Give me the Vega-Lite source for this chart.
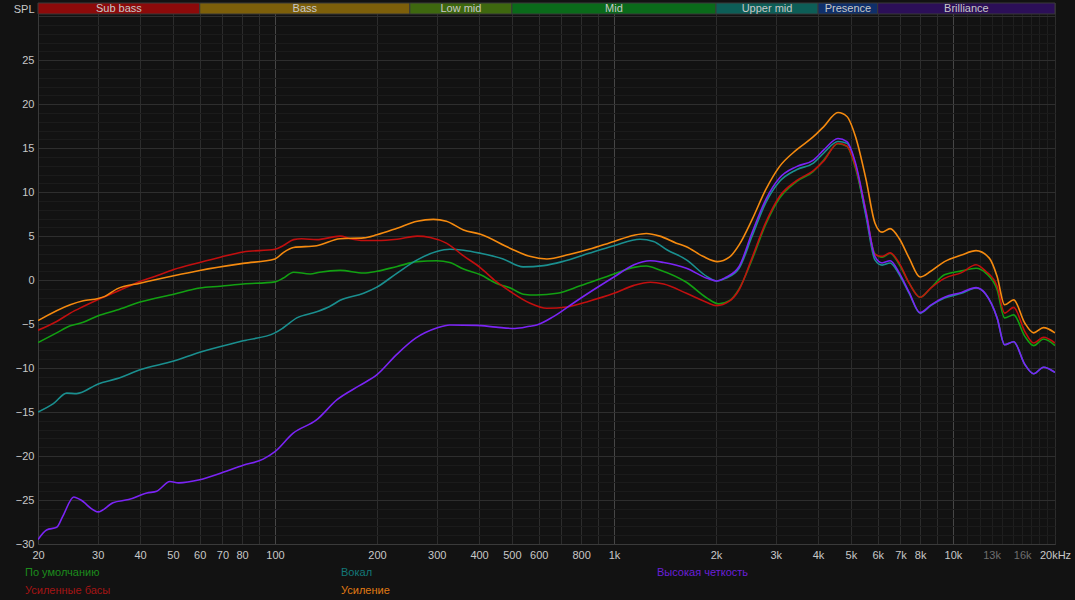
{
  "$schema": "https://vega.github.io/schema/vega-lite/v6.json",
  "width": 1017,
  "height": 541,
  "autosize": {"type": "none"},
  "padding": {"left": 38, "top": 3, "right": 20, "bottom": 56},
  "background": "#121212",
  "config": {"view": {"stroke": "#333333"}, "font": "Liberation Sans"},
  "datasets": {
    "bands": [
      {"band": "Sub bass", "f1": 20, "f2": 60},
      {"band": "Bass", "f1": 60, "f2": 250},
      {"band": "Low mid", "f1": 250, "f2": 500},
      {"band": "Mid", "f1": 500, "f2": 2000},
      {"band": "Upper mid", "f1": 2000, "f2": 4000},
      {"band": "Presence", "f1": 4000, "f2": 6000},
      {"band": "Brilliance", "f1": 6000, "f2": 20000}
    ],
    "curves": [
      {"s":"По умолчанию","f":20,"db":-7.1},{"s":"По умолчанию","f":22.7,"db":-6.0},{"s":"По умолчанию","f":24.9,"db":-5.2},{"s":"По умолчанию","f":27.2,"db":-4.8},{"s":"По умолчанию","f":30.1,"db":-4.05},{"s":"По умолчанию","f":34.2,"db":-3.4},{"s":"По умолчанию","f":40,"db":-2.5},{"s":"По умолчанию","f":50.3,"db":-1.6},{"s":"По умолчанию","f":60,"db":-0.9},{"s":"По умолчанию","f":69,"db":-0.7},{"s":"По умолчанию","f":80.6,"db":-0.45},{"s":"По умолчанию","f":100,"db":-0.2},{"s":"По умолчанию","f":105.6,"db":0.2},{"s":"По умолчанию","f":113.5,"db":0.9},{"s":"По умолчанию","f":127,"db":0.7},{"s":"По умолчанию","f":135.4,"db":0.9},{"s":"По умолчанию","f":155.7,"db":1.1},{"s":"По умолчанию","f":182.6,"db":0.8},{"s":"По умолчанию","f":199.8,"db":1.0},{"s":"По умолчанию","f":229.3,"db":1.55},{"s":"По умолчанию","f":262.8,"db":2.1},{"s":"По умолчанию","f":300,"db":2.2},{"s":"По умолчанию","f":328,"db":2.0},{"s":"По умолчанию","f":360,"db":1.25},{"s":"По умолчанию","f":404,"db":0.6},{"s":"По умолчанию","f":449,"db":-0.35},{"s":"По умолчанию","f":495,"db":-0.9},{"s":"По умолчанию","f":540,"db":-1.6},{"s":"По умолчанию","f":590,"db":-1.7},{"s":"По умолчанию","f":680,"db":-1.5},{"s":"По умолчанию","f":795,"db":-0.65},{"s":"По умолчанию","f":1000,"db":0.7},{"s":"По умолчанию","f":1146,"db":1.45},{"s":"По умолчанию","f":1246,"db":1.6},{"s":"По умолчанию","f":1365,"db":1.15},{"s":"По умолчанию","f":1636,"db":-0.25},{"s":"По умолчанию","f":1882,"db":-2.05},{"s":"По умолчанию","f":2038,"db":-2.7},{"s":"По умолчанию","f":2190,"db":-2.35},{"s":"По умолчанию","f":2340,"db":-1.0},{"s":"По умолчанию","f":2553,"db":2.3},{"s":"По умолчанию","f":2801,"db":6.3},{"s":"По умолчанию","f":3078,"db":9.3},{"s":"По умолчанию","f":3455,"db":11.2},{"s":"По умолчанию","f":3876,"db":12.35},{"s":"По умолчанию","f":4159,"db":13.65},{"s":"По умолчанию","f":4580,"db":15.5},{"s":"По умолчанию","f":4866,"db":15.2},{"s":"По умолчанию","f":5160,"db":12.7},{"s":"По умолчанию","f":5544,"db":7.4},{"s":"По умолчанию","f":5886,"db":3.0},{"s":"По умолчанию","f":6180,"db":2.6},{"s":"По умолчанию","f":6525,"db":3.05},{"s":"По умолчанию","f":6950,"db":1.75},{"s":"По умолчанию","f":7428,"db":-0.35},{"s":"По умолчанию","f":8000,"db":-1.95},{"s":"По умолчанию","f":8600,"db":-0.9},{"s":"По умолчанию","f":9441,"db":0.6},{"s":"По умолчанию","f":10600,"db":1.05},{"s":"По умолчанию","f":11700,"db":1.35},{"s":"По умолчанию","f":12500,"db":0.8},{"s":"По умолчанию","f":13500,"db":-1.1},{"s":"По умолчанию","f":14200,"db":-4.3},{"s":"По умолчанию","f":15100,"db":-3.95},{"s":"По умолчанию","f":16300,"db":-6.4},{"s":"По умолчанию","f":17300,"db":-7.45},{"s":"По умолчанию","f":18500,"db":-6.7},{"s":"По умолчанию","f":20000,"db":-7.45},

      {"s":"Вокал","f":20,"db":-15.0},{"s":"Вокал","f":22.2,"db":-14.05},{"s":"Вокал","f":24.3,"db":-12.85},{"s":"Вокал","f":26,"db":-12.9},{"s":"Вокал","f":30.1,"db":-11.8},{"s":"Вокал","f":34.2,"db":-11.2},{"s":"Вокал","f":40,"db":-10.2},{"s":"Вокал","f":50.3,"db":-9.2},{"s":"Вокал","f":60,"db":-8.2},{"s":"Вокал","f":80.6,"db":-6.9},{"s":"Вокал","f":100,"db":-6.0},{"s":"Вокал","f":105.6,"db":-5.45},{"s":"Вокал","f":116,"db":-4.3},{"s":"Вокал","f":132.8,"db":-3.6},{"s":"Вокал","f":145,"db":-3.0},{"s":"Вокал","f":155.7,"db":-2.3},{"s":"Вокал","f":182.6,"db":-1.5},{"s":"Вокал","f":199.8,"db":-0.8},{"s":"Вокал","f":229.3,"db":0.8},{"s":"Вокал","f":262.8,"db":2.3},{"s":"Вокал","f":300,"db":3.25},{"s":"Вокал","f":328,"db":3.5},{"s":"Вокал","f":360,"db":3.4},{"s":"Вокал","f":404,"db":3.05},{"s":"Вокал","f":471,"db":2.4},{"s":"Вокал","f":540,"db":1.5},{"s":"Вокал","f":620,"db":1.65},{"s":"Вокал","f":704,"db":2.1},{"s":"Вокал","f":844,"db":3.05},{"s":"Вокал","f":1000,"db":3.9},{"s":"Вокал","f":1194,"db":4.65},{"s":"Вокал","f":1309,"db":4.4},{"s":"Вокал","f":1432,"db":3.45},{"s":"Вокал","f":1636,"db":2.3},{"s":"Вокал","f":1882,"db":0.4},{"s":"Вокал","f":2008,"db":-0.1},{"s":"Вокал","f":2135,"db":0.2},{"s":"Вокал","f":2340,"db":1.35},{"s":"Вокал","f":2553,"db":4.95},{"s":"Вокал","f":2801,"db":8.75},{"s":"Вокал","f":3078,"db":11.2},{"s":"Вокал","f":3455,"db":12.55},{"s":"Вокал","f":3876,"db":13.3},{"s":"Вокал","f":4159,"db":14.45},{"s":"Вокал","f":4580,"db":15.75},{"s":"Вокал","f":4866,"db":15.55},{"s":"Вокал","f":5160,"db":13.1},{"s":"Вокал","f":5544,"db":7.2},{"s":"Вокал","f":5886,"db":2.3},{"s":"Вокал","f":6180,"db":1.7},{"s":"Вокал","f":6525,"db":1.95},{"s":"Вокал","f":6950,"db":0.6},{"s":"Вокал","f":7428,"db":-1.5},{"s":"Вокал","f":8000,"db":-3.75},{"s":"Вокал","f":8600,"db":-2.9},{"s":"Вокал","f":9441,"db":-2.05},{"s":"Вокал","f":10600,"db":-1.5},{"s":"Вокал","f":11700,"db":-0.9},{"s":"Вокал","f":12500,"db":-1.6},{"s":"Вокал","f":13500,"db":-4.3},{"s":"Вокал","f":14200,"db":-7.35},{"s":"Вокал","f":15100,"db":-7.0},{"s":"Вокал","f":16300,"db":-9.6},{"s":"Вокал","f":17300,"db":-10.65},{"s":"Вокал","f":18500,"db":-9.9},{"s":"Вокал","f":20000,"db":-10.5},

      {"s":"Усиленные басы","f":20,"db":-5.7},{"s":"Усиленные басы","f":22.7,"db":-4.7},{"s":"Усиленные басы","f":24.9,"db":-3.75},{"s":"Усиленные басы","f":27.2,"db":-3.0},{"s":"Усиленные басы","f":30.1,"db":-2.2},{"s":"Усиленные басы","f":34.2,"db":-1.3},{"s":"Усиленные басы","f":40,"db":-0.15},{"s":"Усиленные басы","f":44.8,"db":0.5},{"s":"Усиленные басы","f":50.3,"db":1.2},{"s":"Усиленные басы","f":60,"db":2.0},{"s":"Усиленные басы","f":69,"db":2.6},{"s":"Усиленные басы","f":80.6,"db":3.2},{"s":"Усиленные басы","f":100,"db":3.5},{"s":"Усиленные басы","f":105.6,"db":3.9},{"s":"Усиленные басы","f":113.5,"db":4.6},{"s":"Усиленные басы","f":120,"db":4.7},{"s":"Усиленные басы","f":132.8,"db":4.6},{"s":"Усиленные басы","f":155.7,"db":5.0},{"s":"Усиленные басы","f":166.8,"db":4.7},{"s":"Усиленные басы","f":182.6,"db":4.5},{"s":"Усиленные басы","f":199.8,"db":4.5},{"s":"Усиленные басы","f":229.3,"db":4.65},{"s":"Усиленные басы","f":262.8,"db":5.0},{"s":"Усиленные басы","f":287,"db":4.85},{"s":"Усиленные басы","f":320.4,"db":4.2},{"s":"Усиленные басы","f":360,"db":2.75},{"s":"Усиленные басы","f":404,"db":1.4},{"s":"Усиленные басы","f":449,"db":-0.15},{"s":"Усиленные басы","f":495,"db":-1.3},{"s":"Усиленные басы","f":564,"db":-2.6},{"s":"Усиленные басы","f":634,"db":-3.2},{"s":"Усиленные басы","f":726,"db":-3.05},{"s":"Усиленные басы","f":844,"db":-2.4},{"s":"Усиленные басы","f":1000,"db":-1.5},{"s":"Усиленные басы","f":1146,"db":-0.6},{"s":"Усиленные басы","f":1280,"db":-0.25},{"s":"Усиленные басы","f":1402,"db":-0.45},{"s":"Усиленные басы","f":1636,"db":-1.5},{"s":"Усиленные басы","f":1882,"db":-2.55},{"s":"Усиленные басы","f":2008,"db":-2.9},{"s":"Усиленные басы","f":2190,"db":-2.4},{"s":"Усиленные басы","f":2340,"db":-1.1},{"s":"Усиленные басы","f":2553,"db":2.5},{"s":"Усиленные басы","f":2801,"db":6.5},{"s":"Усиленные басы","f":3078,"db":9.5},{"s":"Усиленные басы","f":3455,"db":11.3},{"s":"Усиленные басы","f":3876,"db":12.45},{"s":"Усиленные басы","f":4159,"db":13.55},{"s":"Усиленные басы","f":4580,"db":15.55},{"s":"Усиленные басы","f":4866,"db":15.25},{"s":"Усиленные басы","f":5160,"db":12.9},{"s":"Усиленные басы","f":5544,"db":7.8},{"s":"Усиленные басы","f":5886,"db":2.9},{"s":"Усиленные басы","f":6180,"db":2.7},{"s":"Усиленные басы","f":6525,"db":3.1},{"s":"Усиленные басы","f":6950,"db":1.9},{"s":"Усиленные басы","f":7428,"db":-0.35},{"s":"Усиленные басы","f":8000,"db":-1.95},{"s":"Усиленные басы","f":8600,"db":-0.9},{"s":"Усиленные басы","f":9441,"db":0.2},{"s":"Усиленные басы","f":10600,"db":0.85},{"s":"Усиленные басы","f":11700,"db":1.75},{"s":"Усиленные басы","f":12500,"db":1.0},{"s":"Усиленные басы","f":13500,"db":-0.7},{"s":"Усиленные басы","f":14200,"db":-3.75},{"s":"Усиленные басы","f":15100,"db":-3.1},{"s":"Усиленные басы","f":16300,"db":-5.85},{"s":"Усиленные басы","f":17300,"db":-7.15},{"s":"Усиленные басы","f":18500,"db":-6.5},{"s":"Усиленные басы","f":20000,"db":-7.15},

      {"s":"Усиление","f":20,"db":-4.6},{"s":"Усиление","f":24.9,"db":-2.8},{"s":"Усиление","f":27.2,"db":-2.35},{"s":"Усиление","f":30.1,"db":-2.1},{"s":"Усиление","f":31.5,"db":-1.85},{"s":"Усиление","f":34.2,"db":-1.0},{"s":"Усиление","f":40,"db":-0.35},{"s":"Усиление","f":50.3,"db":0.5},{"s":"Усиление","f":60,"db":1.1},{"s":"Усиление","f":80.6,"db":1.9},{"s":"Усиление","f":100,"db":2.4},{"s":"Усиление","f":105.6,"db":3.1},{"s":"Усиление","f":113.5,"db":3.7},{"s":"Усиление","f":132.8,"db":3.9},{"s":"Усиление","f":155.7,"db":4.7},{"s":"Усиление","f":182.6,"db":4.8},{"s":"Усиление","f":199.8,"db":5.15},{"s":"Усиление","f":229.3,"db":5.9},{"s":"Усиление","f":262.8,"db":6.7},{"s":"Усиление","f":293.3,"db":6.9},{"s":"Усиление","f":320.4,"db":6.7},{"s":"Усиление","f":360,"db":5.7},{"s":"Усиление","f":404,"db":5.2},{"s":"Усиление","f":495,"db":3.6},{"s":"Усиление","f":564,"db":2.7},{"s":"Усиление","f":634,"db":2.4},{"s":"Усиление","f":737,"db":2.9},{"s":"Усиление","f":844,"db":3.5},{"s":"Усиление","f":1000,"db":4.4},{"s":"Усиление","f":1146,"db":5.1},{"s":"Усиление","f":1246,"db":5.3},{"s":"Усиление","f":1365,"db":5.0},{"s":"Усиление","f":1528,"db":4.2},{"s":"Усиление","f":1636,"db":3.8},{"s":"Усиление","f":1830,"db":2.7},{"s":"Усиление","f":2020,"db":2.1},{"s":"Усиление","f":2190,"db":2.6},{"s":"Усиление","f":2340,"db":4.0},{"s":"Усиление","f":2553,"db":6.85},{"s":"Усиление","f":2801,"db":10.25},{"s":"Усиление","f":3078,"db":12.9},{"s":"Усиление","f":3455,"db":14.8},{"s":"Усиление","f":3876,"db":16.3},{"s":"Усиление","f":4159,"db":17.45},{"s":"Усиление","f":4580,"db":19.05},{"s":"Усиление","f":4866,"db":18.6},{"s":"Усиление","f":5160,"db":16.3},{"s":"Усиление","f":5544,"db":11.4},{"s":"Усиление","f":5886,"db":6.5},{"s":"Усиление","f":6180,"db":5.45},{"s":"Усиление","f":6525,"db":5.85},{"s":"Усиление","f":6950,"db":4.7},{"s":"Усиление","f":7428,"db":2.5},{"s":"Усиление","f":8000,"db":0.35},{"s":"Усиление","f":8600,"db":1.0},{"s":"Усиление","f":9441,"db":2.1},{"s":"Усиление","f":10600,"db":2.85},{"s":"Усиление","f":11700,"db":3.35},{"s":"Усиление","f":12800,"db":2.5},{"s":"Усиление","f":13500,"db":0.4},{"s":"Усиление","f":14200,"db":-2.8},{"s":"Усиление","f":15100,"db":-2.25},{"s":"Усиление","f":16300,"db":-4.9},{"s":"Усиление","f":17300,"db":-6.0},{"s":"Усиление","f":18500,"db":-5.4},{"s":"Усиление","f":20000,"db":-6.0},

      {"s":"Высокая четкость","f":20,"db":-29.5},{"s":"Высокая четкость","f":21.2,"db":-28.4},{"s":"Высокая четкость","f":22.7,"db":-28.1},{"s":"Высокая четкость","f":23.7,"db":-26.8},{"s":"Высокая четкость","f":25.5,"db":-24.65},{"s":"Высокая четкость","f":26.6,"db":-24.95},{"s":"Высокая четкость","f":30.1,"db":-26.35},{"s":"Высокая четкость","f":33.3,"db":-25.3},{"s":"Высокая четкость","f":37,"db":-24.95},{"s":"Высокая четкость","f":41.9,"db":-24.2},{"s":"Высокая четкость","f":44.8,"db":-24.0},{"s":"Высокая четкость","f":49,"db":-22.9},{"s":"Высокая четкость","f":52,"db":-23.05},{"s":"Высокая четкость","f":60,"db":-22.7},{"s":"Высокая четкость","f":70.3,"db":-21.85},{"s":"Высокая четкость","f":80.6,"db":-21.05},{"s":"Высокая четкость","f":92.3,"db":-20.35},{"s":"Высокая четкость","f":100,"db":-19.5},{"s":"Высокая четкость","f":113.2,"db":-17.4},{"s":"Высокая четкость","f":132.6,"db":-15.9},{"s":"Высокая четкость","f":152.5,"db":-13.6},{"s":"Высокая четкость","f":177.5,"db":-12.0},{"s":"Высокая четкость","f":200,"db":-10.75},{"s":"Высокая четкость","f":228,"db":-8.5},{"s":"Высокая четкость","f":260,"db":-6.6},{"s":"Высокая четкость","f":300,"db":-5.45},{"s":"Высокая четкость","f":328,"db":-5.1},{"s":"Высокая четкость","f":393,"db":-5.15},{"s":"Высокая четкость","f":449,"db":-5.35},{"s":"Высокая четкость","f":510,"db":-5.5},{"s":"Высокая четкость","f":564,"db":-5.25},{"s":"Высокая четкость","f":592,"db":-5.1},{"s":"Высокая четкость","f":663,"db":-4.15},{"s":"Высокая четкость","f":760,"db":-2.6},{"s":"Высокая четкость","f":871,"db":-1.1},{"s":"Высокая четкость","f":1000,"db":0.35},{"s":"Высокая четкость","f":1146,"db":1.75},{"s":"Высокая четкость","f":1280,"db":2.2},{"s":"Высокая четкость","f":1402,"db":2.0},{"s":"Высокая четкость","f":1636,"db":1.35},{"s":"Высокая четкость","f":1882,"db":0.2},{"s":"Высокая четкость","f":2008,"db":-0.1},{"s":"Высокая четкость","f":2135,"db":0.3},{"s":"Высокая четкость","f":2340,"db":1.55},{"s":"Высокая четкость","f":2553,"db":5.35},{"s":"Высокая четкость","f":2801,"db":9.1},{"s":"Высокая четкость","f":3078,"db":11.6},{"s":"Высокая четкость","f":3455,"db":12.9},{"s":"Высокая четкость","f":3876,"db":13.65},{"s":"Высокая четкость","f":4159,"db":14.8},{"s":"Высокая четкость","f":4580,"db":16.1},{"s":"Высокая четкость","f":4866,"db":15.75},{"s":"Высокая четкость","f":5160,"db":13.3},{"s":"Высокая четкость","f":5544,"db":7.6},{"s":"Высокая четкость","f":5886,"db":2.7},{"s":"Высокая четкость","f":6180,"db":1.95},{"s":"Высокая четкость","f":6525,"db":2.2},{"s":"Высокая четкость","f":6950,"db":0.8},{"s":"Высокая четкость","f":7428,"db":-1.4},{"s":"Высокая четкость","f":8000,"db":-3.7},{"s":"Высокая четкость","f":8600,"db":-2.85},{"s":"Высокая четкость","f":9441,"db":-1.95},{"s":"Высокая четкость","f":10600,"db":-1.4},{"s":"Высокая четкость","f":11700,"db":-0.85},{"s":"Высокая четкость","f":12500,"db":-1.6},{"s":"Высокая четкость","f":13500,"db":-4.3},{"s":"Высокая четкость","f":14200,"db":-7.35},{"s":"Высокая четкость","f":15100,"db":-7.0},{"s":"Высокая четкость","f":16300,"db":-9.6},{"s":"Высокая четкость","f":17300,"db":-10.65},{"s":"Высокая четкость","f":18500,"db":-9.9},{"s":"Высокая четкость","f":20000,"db":-10.5}
    ]
  },
  "layer": [
    {
      "data": {"name": "curves"},
      "mark": {"type": "line", "interpolate": "monotone", "strokeWidth": 1.6, "clip": true},
      "encoding": {
        "x": {
          "field": "f", "type": "quantitative",
          "scale": {"type": "log", "domain": [20, 20000], "nice": false},
          "axis": {
            "title": null,
            "tickCount": 500,
            "values": [20,30,40,50,60,70,80,90,100,200,300,400,500,600,700,800,900,1000,2000,3000,4000,5000,6000,7000,8000,9000,10000,11000,12000,13000,14000,15000,16000,17000,18000,19000,20000],
            "labelExpr": "indexof([20,30,40,50,60,70,80,100,200,300,400,500,600,800,1000,2000,3000,4000,5000,6000,7000,8000,10000,13000,16000,20000], datum.value) < 0 ? '' : (datum.value == 20000 ? '20kHz' : (datum.value >= 1000 ? (datum.value / 1000) + 'k' : '' + datum.value))",
            "grid": true,
            "gridColor": {"condition": [{"test": "datum.value == 100 || datum.value == 1000 || datum.value == 10000", "value": "#464646"}, {"test": "datum.value > 10000 && datum.value < 20000", "value": "#1f1f1f"}], "value": "#2c2c2c"},
            "gridWidth": 1,
            "ticks": false,
            "domainColor": "#3a3a3a",
            "labelColor": {"condition": {"test": "datum.value == 13000 || datum.value == 16000", "value": "#6e6e6e"}, "value": "#c8c8c8"},
            "labelFont": "Liberation Sans",
            "labelFontSize": 11,
            "labelPadding": 5,
            "labelOverlap": false,
            "labelFlush": false,
            "labelBound": false
          }
        },
        "y": {
          "field": "db", "type": "quantitative",
          "scale": {"domain": [-30, 31.5], "nice": false, "zero": false},
          "axis": {
            "tickCount": 500,
            "format": "d",
            "values": [-30,-29,-28,-27,-26,-25,-24,-23,-22,-21,-20,-19,-18,-17,-16,-15,-14,-13,-12,-11,-10,-9,-8,-7,-6,-5,-4,-3,-2,-1,0,1,2,3,4,5,6,7,8,9,10,11,12,13,14,15,16,17,18,19,20,21,22,23,24,25,26,27,28,29,30],
            "labelExpr": "(datum.value % 5 == 0 && datum.value < 30) ? format(datum.value, 'd') : ''",
            "grid": true,
            "gridColor": {"condition": {"test": "datum.value % 5 == 0", "value": "#2e2e2e"}, "value": "#1b1b1b"},
            "ticks": false,
            "domainColor": "#3a3a3a",
            "labelColor": "#c8c8c8",
            "labelFont": "Liberation Sans",
            "labelFontSize": 11,
            "labelPadding": 4,
            "labelOverlap": false,
            "labelFlush": false,
            "title": "SPL",
            "titleAngle": 0,
            "titleAlign": "right",
            "titleBaseline": "middle",
            "titleX": -4,
            "titleY": 6,
            "titleColor": "#c8c8c8",
            "titleFont": "Liberation Sans",
            "titleFontSize": 11,
            "titleFontWeight": "normal"
          }
        },
        "color": {
          "field": "s", "type": "nominal",
          "scale": {
            "domain": ["По умолчанию", "Вокал", "Высокая четкость", "Усиленные басы", "Усиление"],
            "range": ["#12a012", "#1a8f8f", "#7b24f5", "#c20f0f", "#f58a0f"]
          },
          "legend": {
            "title": null,
            "orient": "none",
            "legendX": -24,
            "legendY": 564,
            "direction": "horizontal",
            "columns": 3,
            "gridAlign": "all",
            "columnPadding": 213,
            "rowPadding": 6,
            "symbolSize": 0,
            "symbolOpacity": 0,
            "symbolStrokeWidth": 0,
            "labelOffset": 0,
            "labelFont": "Liberation Sans",
            "labelFontSize": 11,
            "labelLimit": 300,
            "labelColor": {"expr": "datum.label == 'По умолчанию' ? '#1c8c1c' : datum.label == 'Вокал' ? '#137878' : datum.label == 'Высокая четкость' ? '#6b1fd8' : datum.label == 'Усиленные басы' ? '#a51414' : '#e07a12'"}
          }
        }
      }
    },
    {
      "data": {"name": "bands"},
      "mark": {"type": "rect", "stroke": "#3a3a3a", "strokeWidth": 1},
      "encoding": {
        "x": {"field": "f1", "type": "quantitative"},
        "x2": {"field": "f2"},
        "y": {"datum": 30.25},
        "y2": {"datum": 31.5},
        "fill": {
          "field": "band", "type": "nominal", "legend": null,
          "scale": {
            "domain": ["Sub bass", "Bass", "Low mid", "Mid", "Upper mid", "Presence", "Brilliance"],
            "range": ["#8c0a0a", "#7d5f0a", "#3e680f", "#0a6a1a", "#0d5e57", "#0f2f6a", "#2c0f58"]
          }
        }
      }
    },
    {
      "data": {"name": "bands"},
      "transform": [{"calculate": "sqrt(datum.f1 * datum.f2)", "as": "fc"}],
      "mark": {"type": "text", "color": "#c8c8c8", "font": "Liberation Sans", "fontSize": 11, "baseline": "middle", "align": "center"},
      "encoding": {
        "x": {"field": "fc", "type": "quantitative"},
        "y": {"datum": 30.8},
        "text": {"field": "band"}
      }
    }
  ]
}
